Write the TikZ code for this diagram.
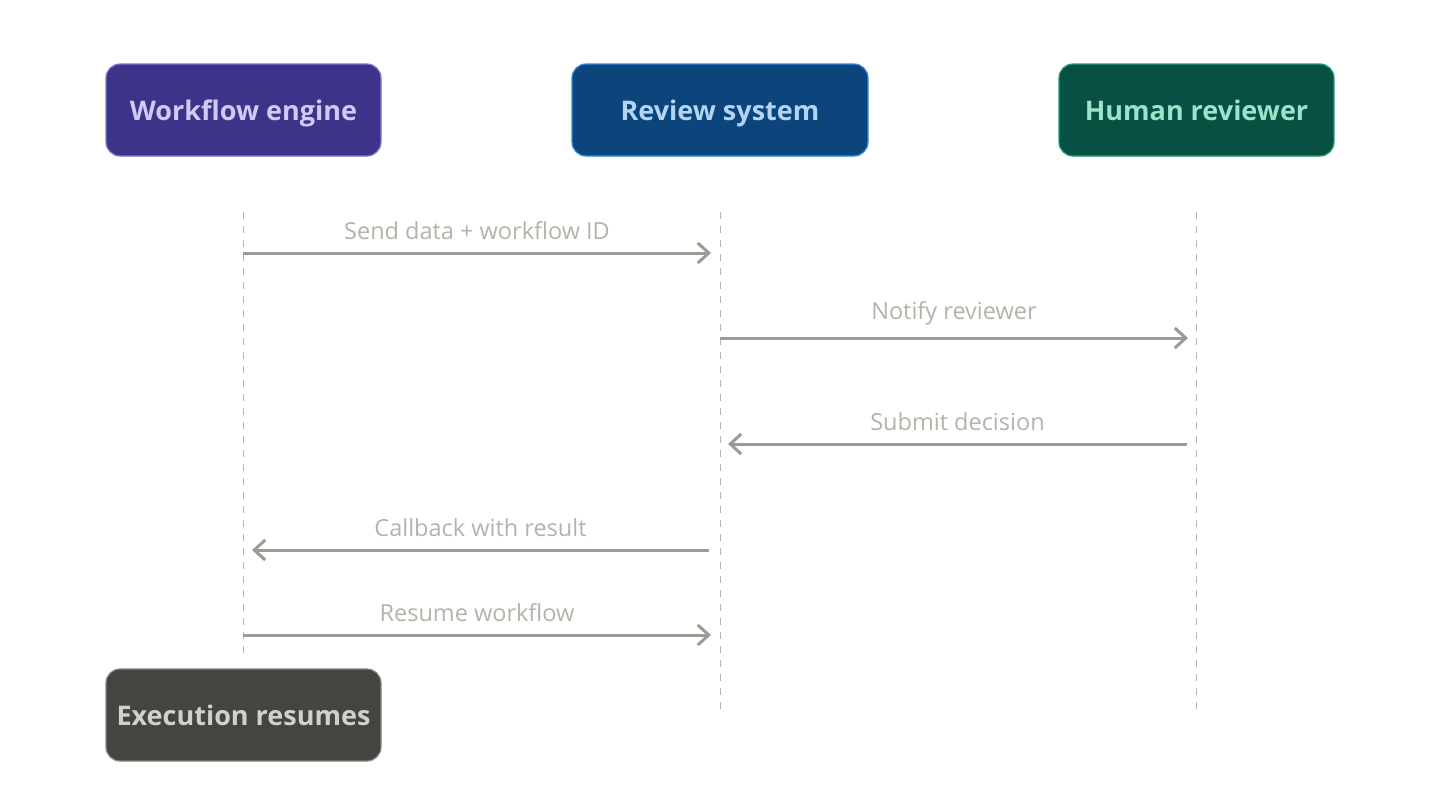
\documentclass[tikz,border=0pt]{standalone}
\usepackage{fontspec}
\setmainfont{Open Sans}
\usetikzlibrary{arrows.meta}
\definecolor{wfFill}{HTML}{3C3489}
\definecolor{wfDraw}{HTML}{7F77DD}
\definecolor{wfText}{HTML}{CECBF6}
\definecolor{rsFill}{HTML}{0C447C}
\definecolor{rsDraw}{HTML}{378ADD}
\definecolor{rsText}{HTML}{B5D4F4}
\definecolor{hrFill}{HTML}{085041}
\definecolor{hrDraw}{HTML}{1D9E75}
\definecolor{hrText}{HTML}{9FE1CB}
\definecolor{exFill}{HTML}{444441}
\definecolor{exDraw}{HTML}{888780}
\definecolor{exText}{HTML}{D3D1C7}
\definecolor{lifeCol}{HTML}{B4B2A9}
\definecolor{msgCol}{HTML}{9C9A92}
\definecolor{lblCol}{HTML}{B4B2A9}
\tikzset{
  actor/.style={rounded corners=14pt, line width=1.2pt, minimum height=92pt, inner sep=0pt,
    text height=22pt, text depth=2pt,
    font=\fontsize{27}{31}\selectfont\bfseries},
  lifeline/.style={draw=lifeCol, line width=1pt, dash pattern=on 7pt off 7pt},
  msg/.style={draw=msgCol, line width=3pt, -{Straight Barb[length=11pt,width=20pt]}},
  lbl/.style={text=lblCol, font=\fontsize{23.5}{27}\selectfont, anchor=base}
}
\begin{document}
\begin{tikzpicture}[x=1pt,y=-1pt]
\useasboundingbox (0,0) rectangle (1440,804);
\node[actor, fill=wfFill, draw=wfDraw, text=wfText, minimum width=275pt] (wf) at (243.5,110) {Workflow engine};
\node[actor, fill=rsFill, draw=rsDraw, text=rsText, minimum width=296pt] (rs) at (720,110) {Review system};
\node[actor, fill=hrFill, draw=hrDraw, text=hrText, minimum width=275pt] (hr) at (1196.5,110) {Human reviewer};
\node[actor, fill=exFill, draw=exDraw, text=exText, minimum width=275pt] (ex) at (243.5,715) {Execution resumes};
% lifelines
\coordinate (wfTop) at (243,212); \coordinate (wfBot) at (243,660);
\coordinate (rsTop) at (720,212); \coordinate (rsBot) at (720,712);
\coordinate (hrTop) at (1196,212); \coordinate (hrBot) at (1196,712);
\draw[lifeline] (wfTop) -- (wfBot);
\draw[lifeline] (rsTop) -- (rsBot);
\draw[lifeline] (hrTop) -- (hrBot);
% message endpoints
\coordinate (m1a) at (243,253); \coordinate (m1b) at (711,253);
\coordinate (m2a) at (720,338); \coordinate (m2b) at (1188,338);
\coordinate (m3a) at (1187,444); \coordinate (m3b) at (728,444);
\coordinate (m4a) at (709,550); \coordinate (m4b) at (252,550);
\coordinate (m5a) at (243,635); \coordinate (m5b) at (711,635);
\draw[msg] (m1a) -- node[lbl, above=8pt] (l1) {Send data + workflow ID} (m1b);
\draw[msg] (m2a) -- node[lbl, above=8pt] (l2) {Notify reviewer} (m2b);
\draw[msg] (m3a) -- node[lbl, above=8pt] (l3) {Submit decision} (m3b);
\draw[msg] (m4a) -- node[lbl, above=8pt] (l4) {Callback with result} (m4b);
\draw[msg] (m5a) -- node[lbl, above=8pt] (l5) {Resume workflow} (m5b);
\end{tikzpicture}
\end{document}
